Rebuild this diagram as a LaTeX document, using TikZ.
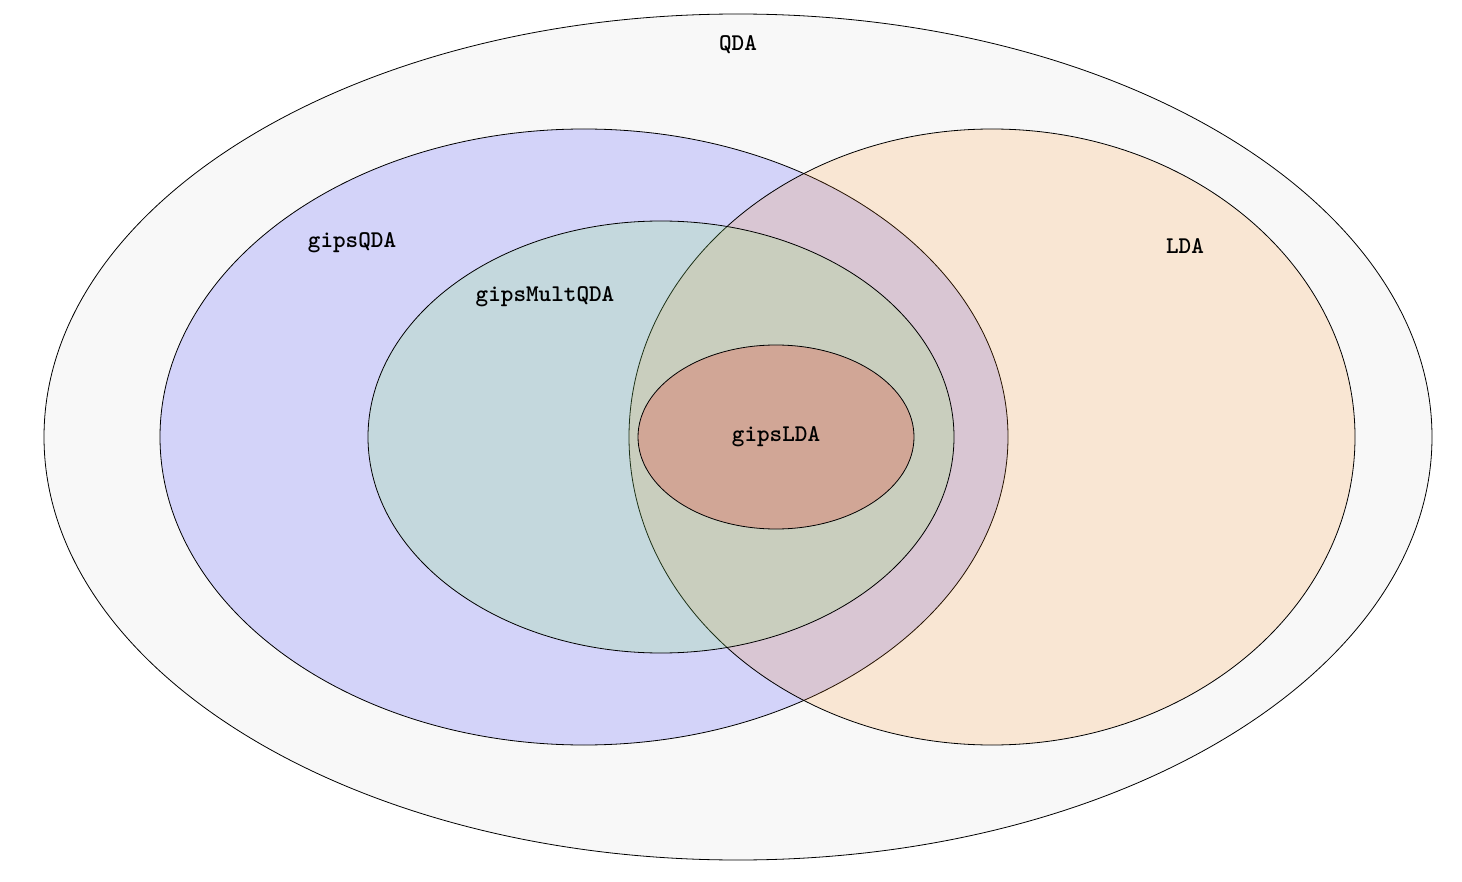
\documentclass[tikz,border=0pt]{standalone}
\begin{document}
\begin{tikzpicture}[x=0.5pt,y=-0.5pt,
  set/.style={draw=black,line width=0.4pt},
  lab/.style={font=\large\ttfamily\bfseries}]
\useasboundingbox (0,0) rectangle (1462,882);
\definecolor{ob}{RGB}{248,248,248}
\definecolor{cmult}{RGB}{140,240,110}
\definecolor{clda}{RGB}{230,75,60}
\fill[set,fill=ob] (738,437) ellipse [x radius=694,y radius=423];
\fill[set,fill=blue,fill opacity=0.15] (584,437) ellipse [x radius=424,y radius=308];
\fill[set,fill=orange,fill opacity=0.15] (992,437) ellipse [x radius=363,y radius=308];
\fill[set,fill=cmult,fill opacity=0.2] (661,437) ellipse [x radius=293,y radius=216];
\fill[set,fill=clda,fill opacity=0.3] (776,437) ellipse [x radius=138,y radius=92];
\node[lab] (qda) at (738,45) {QDA};
\node[lab] (gq) at (352,243) {gipsQDA};
\node[lab] (lda) at (1185,246) {LDA};
\node[lab] (gm) at (545,297) {gipsMultQDA};
\node[lab] (gl) at (776,437) {gipsLDA};
\end{tikzpicture}
\end{document}
